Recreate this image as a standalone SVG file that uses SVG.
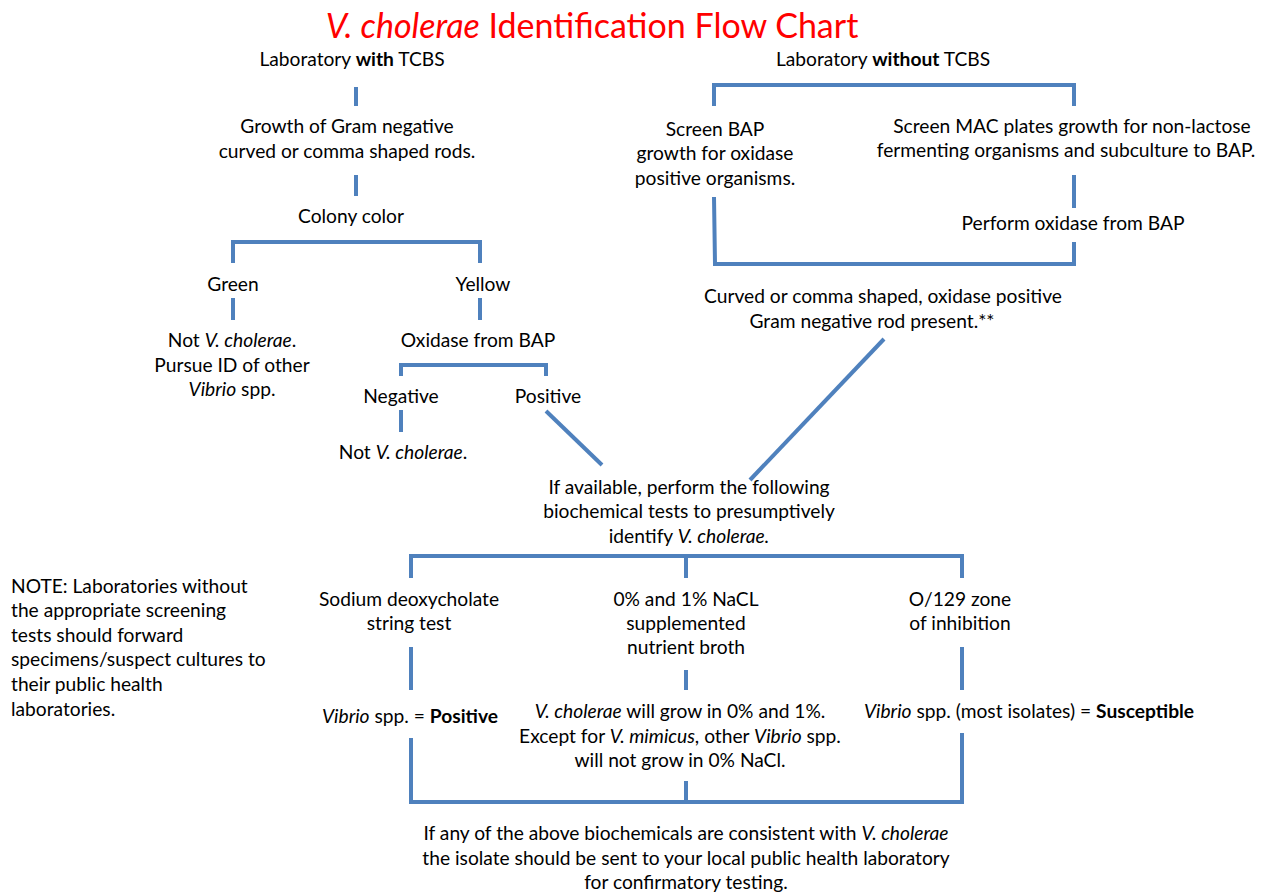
<svg xmlns="http://www.w3.org/2000/svg" width="1262" height="896" viewBox="0 0 1262 896">
<style>
text{font-family:Lato,"Liberation Sans",sans-serif;font-size:19.2px;fill:#000;text-anchor:middle}
.l{text-anchor:start}
.t{font-size:34px;fill:#ff0000}
.i{font-style:italic}
.b{font-weight:bold}
.c{fill:none;stroke:#4f81bd;stroke-width:4;stroke-linecap:butt;stroke-linejoin:miter}
</style>
<rect width="1262" height="896" fill="#fff"/>
<text class="t" x="592" y="38"><tspan class="i">V. cholerae</tspan> Identification Flow Chart</text>
<g id="connectors">
<path class="c" d="M356 87V106"/>
<path class="c" d="M356 175V196"/>
<path class="c" d="M233 263V242H480V263"/>
<path class="c" d="M233 298V320"/>
<path class="c" d="M480 298V320"/>
<path class="c" d="M401 376V365H546V376"/>
<path class="c" d="M401 410V432"/>
<path class="c" d="M546 411L602 465"/>
<path class="c" d="M714 106V85H1074V106"/>
<path class="c" d="M1074 175V208"/>
<path class="c" d="M714 197L715 264H1074V242"/>
<path class="c" d="M884 339L750 480"/>
<path class="c" d="M411 578V556H962V578"/>
<path class="c" d="M686 556V578"/>
<path class="c" d="M411 647V690"/>
<path class="c" d="M686 670V690"/>
<path class="c" d="M962 647V690"/>
<path class="c" d="M411 738V802H962V733"/>
<path class="c" d="M686 781V802"/>
</g>
<g id="n-with"><text x="352" y="66">Laboratory <tspan class="b">with</tspan> TCBS</text></g>
<g id="n-growth"><text x="347" y="133">Growth of Gram negative</text><text x="347" y="158">curved or comma shaped rods.</text></g>
<g id="n-colony"><text x="351" y="223">Colony color</text></g>
<g id="n-green"><text x="233" y="291">Green</text></g>
<g id="n-yellow"><text x="483" y="291">Yellow</text></g>
<g id="n-notvc1"><text x="232" y="347">Not <tspan class="i">V. cholerae</tspan>.</text><text x="232" y="372">Pursue ID of other</text><text x="232" y="396"><tspan class="i">Vibrio</tspan> spp.</text></g>
<g id="n-oxidase"><text x="478" y="347">Oxidase from BAP</text></g>
<g id="n-negative"><text x="401" y="403">Negative</text></g>
<g id="n-positive"><text x="548" y="403">Positive</text></g>
<g id="n-notvc2"><text x="403" y="459">Not <tspan class="i">V. cholerae</tspan>.</text></g>
<g id="n-without"><text x="883" y="66">Laboratory <tspan class="b">without</tspan> TCBS</text></g>
<g id="n-bap"><text x="715" y="136">Screen BAP</text><text x="715" y="160">growth for oxidase</text><text x="715" y="185">positive organisms.</text></g>
<g id="n-mac"><text x="1072" y="133">Screen MAC plates growth for non-lactose</text><text x="1066" y="157">fermenting organisms and subculture to BAP.</text></g>
<g id="n-perform"><text x="1073" y="230">Perform oxidase from BAP</text></g>
<g id="n-curved"><text x="883" y="303">Curved or comma shaped, oxidase positive</text><text x="872" y="328">Gram negative rod present.**</text></g>
<g id="n-biochem"><text x="689" y="494">If available, perform the following</text><text x="689" y="518">biochemical tests to presumptively</text><text x="689" y="543">identify <tspan class="i">V. cholerae.</tspan></text></g>
<g id="n-sodium"><text x="409" y="606">Sodium deoxycholate</text><text x="409" y="630">string test</text></g>
<g id="n-nacl"><text x="686" y="606">0% and 1% NaCL</text><text x="686" y="630">supplemented</text><text x="686" y="654">nutrient broth</text></g>
<g id="n-o129"><text x="960" y="606">O/129 zone</text><text x="960" y="630">of inhibition</text></g>
<g id="n-sodres"><text x="410" y="723"><tspan class="i">Vibrio</tspan> spp. = <tspan class="b">Positive</tspan></text></g>
<g id="n-naclres"><text x="680" y="718"><tspan class="i">V. cholerae</tspan> will grow in 0% and 1%.</text><text x="680" y="743">Except for <tspan class="i">V. mimicus</tspan>, other <tspan class="i">Vibrio</tspan> spp.</text><text x="680" y="767">will not grow in 0% NaCl.</text></g>
<g id="n-o129res"><text x="1029" y="718"><tspan class="i">Vibrio</tspan> spp. (most isolates) = <tspan class="b">Susceptible</tspan></text></g>
<g id="n-final"><text x="686" y="840">If any of the above biochemicals are consistent with <tspan class="i">V. cholerae</tspan></text><text x="686" y="865">the isolate should be sent to your local public health laboratory</text><text x="686" y="889">for confirmatory testing.</text></g>
<g id="n-note"><text class="l" x="11" y="593">NOTE: Laboratories without</text><text class="l" x="11" y="617">the appropriate screening</text><text class="l" x="11" y="642">tests should forward</text><text class="l" x="11" y="666">specimens/suspect cultures to</text><text class="l" x="11" y="691">their public health</text><text class="l" x="11" y="716">laboratories.</text></g>
</svg>
